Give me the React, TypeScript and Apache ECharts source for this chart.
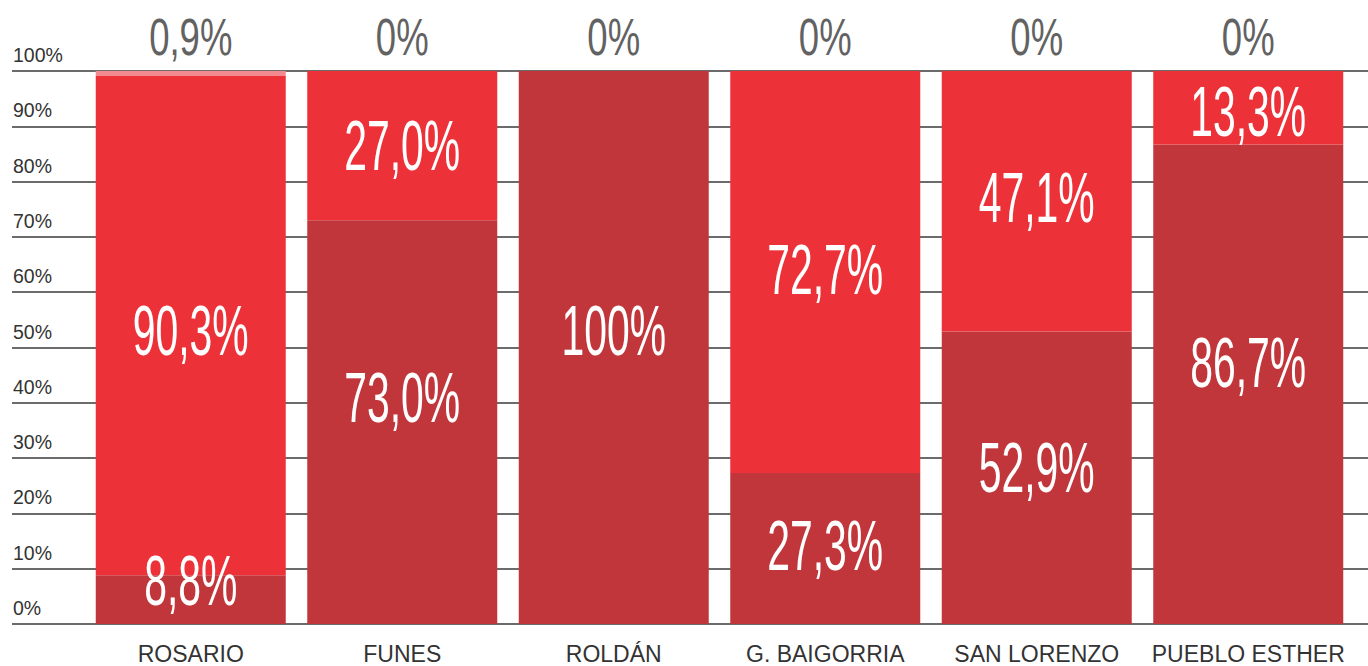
import React, { useEffect, useRef } from "react";
import * as echarts from "echarts";

const categories = ["ROSARIO", "FUNES", "ROLDÁN", "G. BAIGORRIA", "SAN LORENZO", "PUEBLO ESTHER"];
const lowerShare = [8.8, 73.0, 100, 27.3, 52.9, 86.7];
const middleShare = [90.3, 27.0, 0, 72.7, 47.1, 13.3];
const upperShare = [0.9, 0, 0, 0, 0, 0];

// label placement tweaks (px, negative = up), style only
const lowerLabelShift = [-19, -25, -17, -3, -10, -22];
const middleLabelShift = [5, 0, 0, -2, -4, 4];

const fmt = (v: number) =>
  v === 0 || v === 100 ? `${v}%` : v.toFixed(1).replace(".", ",") + "%";

type Lbl = { cat: number; val: number; text: string; shift: number };

const innerLabels: Lbl[] = [];
categories.forEach((_, i) => {
  if (lowerShare[i] > 0)
    innerLabels.push({ cat: i, val: lowerShare[i] / 2, text: fmt(lowerShare[i]), shift: lowerLabelShift[i] });
  if (middleShare[i] > 0)
    innerLabels.push({
      cat: i,
      val: lowerShare[i] + middleShare[i] / 2,
      text: fmt(middleShare[i]),
      shift: middleLabelShift[i],
    });
});
const topLabels: Lbl[] = categories.map((_, i) => ({
  cat: i,
  val: lowerShare[i] + middleShare[i] + upperShare[i],
  text: fmt(upperShare[i]),
  shift: -34,
}));

const SANS = '"Liberation Sans", Arial, Helvetica, sans-serif';

function labelSeries(list: Lbl[], color: string, size: number, sx: number, sy: number) {
  return {
    type: "custom",
    xAxisIndex: 1,
    yAxisIndex: 1,
    z: 10,
    clip: false,
    silent: true,
    data: list.map((d) => [d.cat, d.val]),
    encode: { x: 0, y: 1 },
    renderItem: (params: any, api: any) => {
      const d = list[params.dataIndex];
      const p = api.coord([api.value(0), api.value(1)]);
      return {
        type: "text",
        x: p[0],
        y: p[1] + d.shift,
        scaleX: sx,
        scaleY: sy,
        style: {
          text: d.text,
          x: 0,
          y: 0,
          fill: color,
          fontSize: size,
          fontFamily: SANS,
          align: "center",
          verticalAlign: "middle",
          textAlign: "center",
          textVerticalAlign: "middle",
        },
      };
    },
  };
}

export default function App() {
  const ref = useRef<HTMLDivElement>(null);
  useEffect(() => {
    if (!ref.current) return;
    const chart = echarts.init(ref.current, undefined, { renderer: "svg" });
    chart.setOption({
      animation: false,
      backgroundColor: "#ffffff",
      grid: [
        { left: 12, right: 0, top: 71, bottom: 42, outerBoundsMode: "none", containLabel: false },
        { left: 85, right: 14, top: 71, bottom: 42, outerBoundsMode: "none", containLabel: false },
      ],
      xAxis: [
        { gridIndex: 0, type: "value", min: 0, max: 1, show: false },
        {
          gridIndex: 1,
          type: "category",
          data: categories,
          axisLine: { show: false },
          axisTick: { show: false },
          axisLabel: {
            interval: 0,
            color: "#333333",
            fontSize: 23,
            fontFamily: SANS,
            margin: 18,
          },
        },
      ],
      yAxis: [
        {
          gridIndex: 0,
          type: "value",
          min: 0,
          max: 100,
          interval: 10,
          axisLine: { show: false },
          axisTick: { show: false },
          splitLine: { show: true, lineStyle: { color: "#3a3a3a", width: 1.5 } },
          axisLabel: {
            inside: true,
            margin: 1,
            formatter: "{value}%",
            color: "#333333",
            fontSize: 19.5,
            fontFamily: SANS,
            verticalAlign: "bottom",
            padding: [0, 0, 6, 0],
          },
        },
        { gridIndex: 1, type: "value", min: 0, max: 100, show: false },
      ],
      series: [
        {
          type: "bar",
          name: "lower",
          stack: "total",
          xAxisIndex: 1,
          yAxisIndex: 1,
          barWidth: 190,
          itemStyle: { color: "#c1363b" },
          data: lowerShare,
        },
        {
          type: "bar",
          name: "middle",
          stack: "total",
          xAxisIndex: 1,
          yAxisIndex: 1,
          barWidth: 190,
          itemStyle: { color: "#ec3238" },
          data: middleShare,
        },
        {
          type: "bar",
          name: "upper",
          stack: "total",
          xAxisIndex: 1,
          yAxisIndex: 1,
          barWidth: 190,
          itemStyle: { color: "#f28a8f" },
          data: upperShare,
        },
        labelSeries(innerLabels, "#ffffff", 49, 0.835, 1.42),
        labelSeries(topLabels, "#626262", 44, 0.83, 1.17),
      ],
    });
    return () => chart.dispose();
  }, []);
  return (
    <div
      ref={ref}
      style={{ position: "fixed", left: 0, top: 0, width: 1368, height: 666, background: "#fff" }}
    />
  );
}
